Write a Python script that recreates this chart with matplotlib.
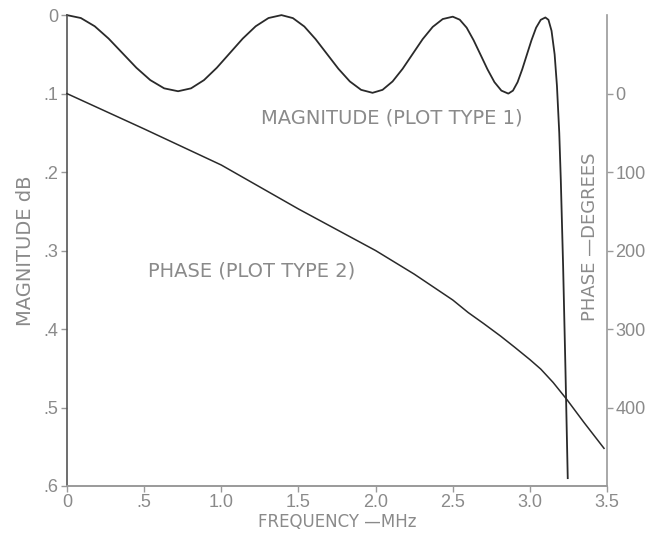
import matplotlib.pyplot as plt
from matplotlib.ticker import FixedLocator

# magnitude response (dB, plotted downward)
freq_mag = [0.00, 0.09, 0.18, 0.27, 0.36, 0.45, 0.54, 0.63, 0.72,
            0.804, 0.888, 0.971, 1.055, 1.139, 1.223, 1.306, 1.39,
            1.464, 1.538, 1.611, 1.685, 1.759, 1.833, 1.906, 1.98,
            2.045, 2.11, 2.175, 2.24, 2.305, 2.37, 2.435, 2.50,
            2.545, 2.59, 2.635, 2.68, 2.725, 2.77, 2.815, 2.86,
            2.89, 2.92, 2.95, 2.98, 3.01, 3.04, 3.07, 3.10,
            3.12, 3.14, 3.16, 3.175, 3.19, 3.20, 3.215, 3.23, 3.245]
mag_db = [0.000, 0.0037, 0.0142, 0.0299, 0.0485, 0.0671, 0.0828, 0.0933, 0.097,
          0.0933, 0.0828, 0.0671, 0.0485, 0.0299, 0.0142, 0.0037, 0.000,
          0.0038, 0.0145, 0.0306, 0.0495, 0.0684, 0.0845, 0.0952, 0.099,
          0.0952, 0.0845, 0.0684, 0.0495, 0.0306, 0.0150, 0.0050, 0.002,
          0.0058, 0.0160, 0.0320, 0.0505, 0.0691, 0.0854, 0.0962, 0.100,
          0.0962, 0.0854, 0.0691, 0.0505, 0.0320, 0.0160, 0.0060, 0.003,
          0.006, 0.020, 0.050, 0.090, 0.150, 0.210, 0.320, 0.450, 0.590]

# phase response (degrees)
freq_ph = [0.0, 0.5, 1.0, 1.5, 2.0, 2.25, 2.5, 2.6, 2.7, 2.81, 2.9,
           3.0, 3.07, 3.15, 3.24, 3.35, 3.48]
phase_deg = [0, 45, 91, 147, 200, 230, 263, 279, 293, 309, 323,
             339, 351, 368, 390, 419, 452]

x_ticks = [0, 0.5, 1.0, 1.5, 2.0, 2.5, 3.0, 3.5]
x_labels = ["0", ".5", "1.0", "1.5", "2.0", "2.5", "3.0", "3.5"]
mag_ticks = [0, 0.1, 0.2, 0.3, 0.4, 0.5, 0.6]
mag_labels = ["0", ".1", ".2", ".3", ".4", ".5", ".6"]
ph_ticks = [0, 100, 200, 300, 400]
ph_labels = ["0", "100", "200", "300", "400"]

plt.rcParams['font.family'] = ['DejaVu Sans']
grey = "#8a8a8a"
ink = "#2a2a2a"

fig = plt.figure(figsize=(6.5, 5.4), dpi=100)
ax = fig.add_axes([0.103, 0.1, 0.831, 0.872])
ax2 = ax.twinx()

ax.plot(freq_mag, mag_db, color=ink, lw=1.3, clip_on=False)
ax2.plot(freq_ph, phase_deg, color=ink, lw=1.1, clip_on=False)

ax.set_xlim(0, 3.5)
ax.set_ylim(0.6, 0)
ax2.set_ylim(500, -100)

ax.xaxis.set_major_locator(FixedLocator(x_ticks))
ax.set_xticklabels(x_labels)
ax.yaxis.set_major_locator(FixedLocator(mag_ticks))
ax.set_yticklabels(mag_labels)
ax2.yaxis.set_major_locator(FixedLocator(ph_ticks))
ax2.set_yticklabels(ph_labels)

for a in (ax, ax2):
    a.spines['top'].set_visible(False)
    for s in a.spines.values():
        s.set_color("#9a9a9a")
        s.set_linewidth(1.2)
    a.tick_params(colors="#9a9a9a", labelcolor=grey, length=4, width=1.0,
                  direction='out', pad=2)
    for lab in a.get_xticklabels() + a.get_yticklabels():
        lab.set_family('Liberation Sans')
        lab.set_fontsize(13)
ax2.spines['left'].set_visible(False)
ax.spines['right'].set_visible(False)
ax.spines['left'].set_color("#555555")

ax.set_xlabel("FREQUENCY \u2014MHz", color=grey, fontsize=12, labelpad=1)
ax.set_ylabel("MAGNITUDE dB", color=grey, fontsize=14, labelpad=6)
ax.text(0.968, 0.529, "PHASE \u2014DEGREES", transform=ax.transAxes,
        rotation=90, ha='center', va='center', color=grey, fontsize=13)

ax.text(1.26, 0.131, "MAGNITUDE (PLOT TYPE 1)", color=grey, fontsize=14,
        ha='left', va='center')
ax.text(0.525, 0.326, "PHASE (PLOT TYPE 2)", color=grey, fontsize=14,
        ha='left', va='center')

fig.savefig("out.png", dpi=100)
